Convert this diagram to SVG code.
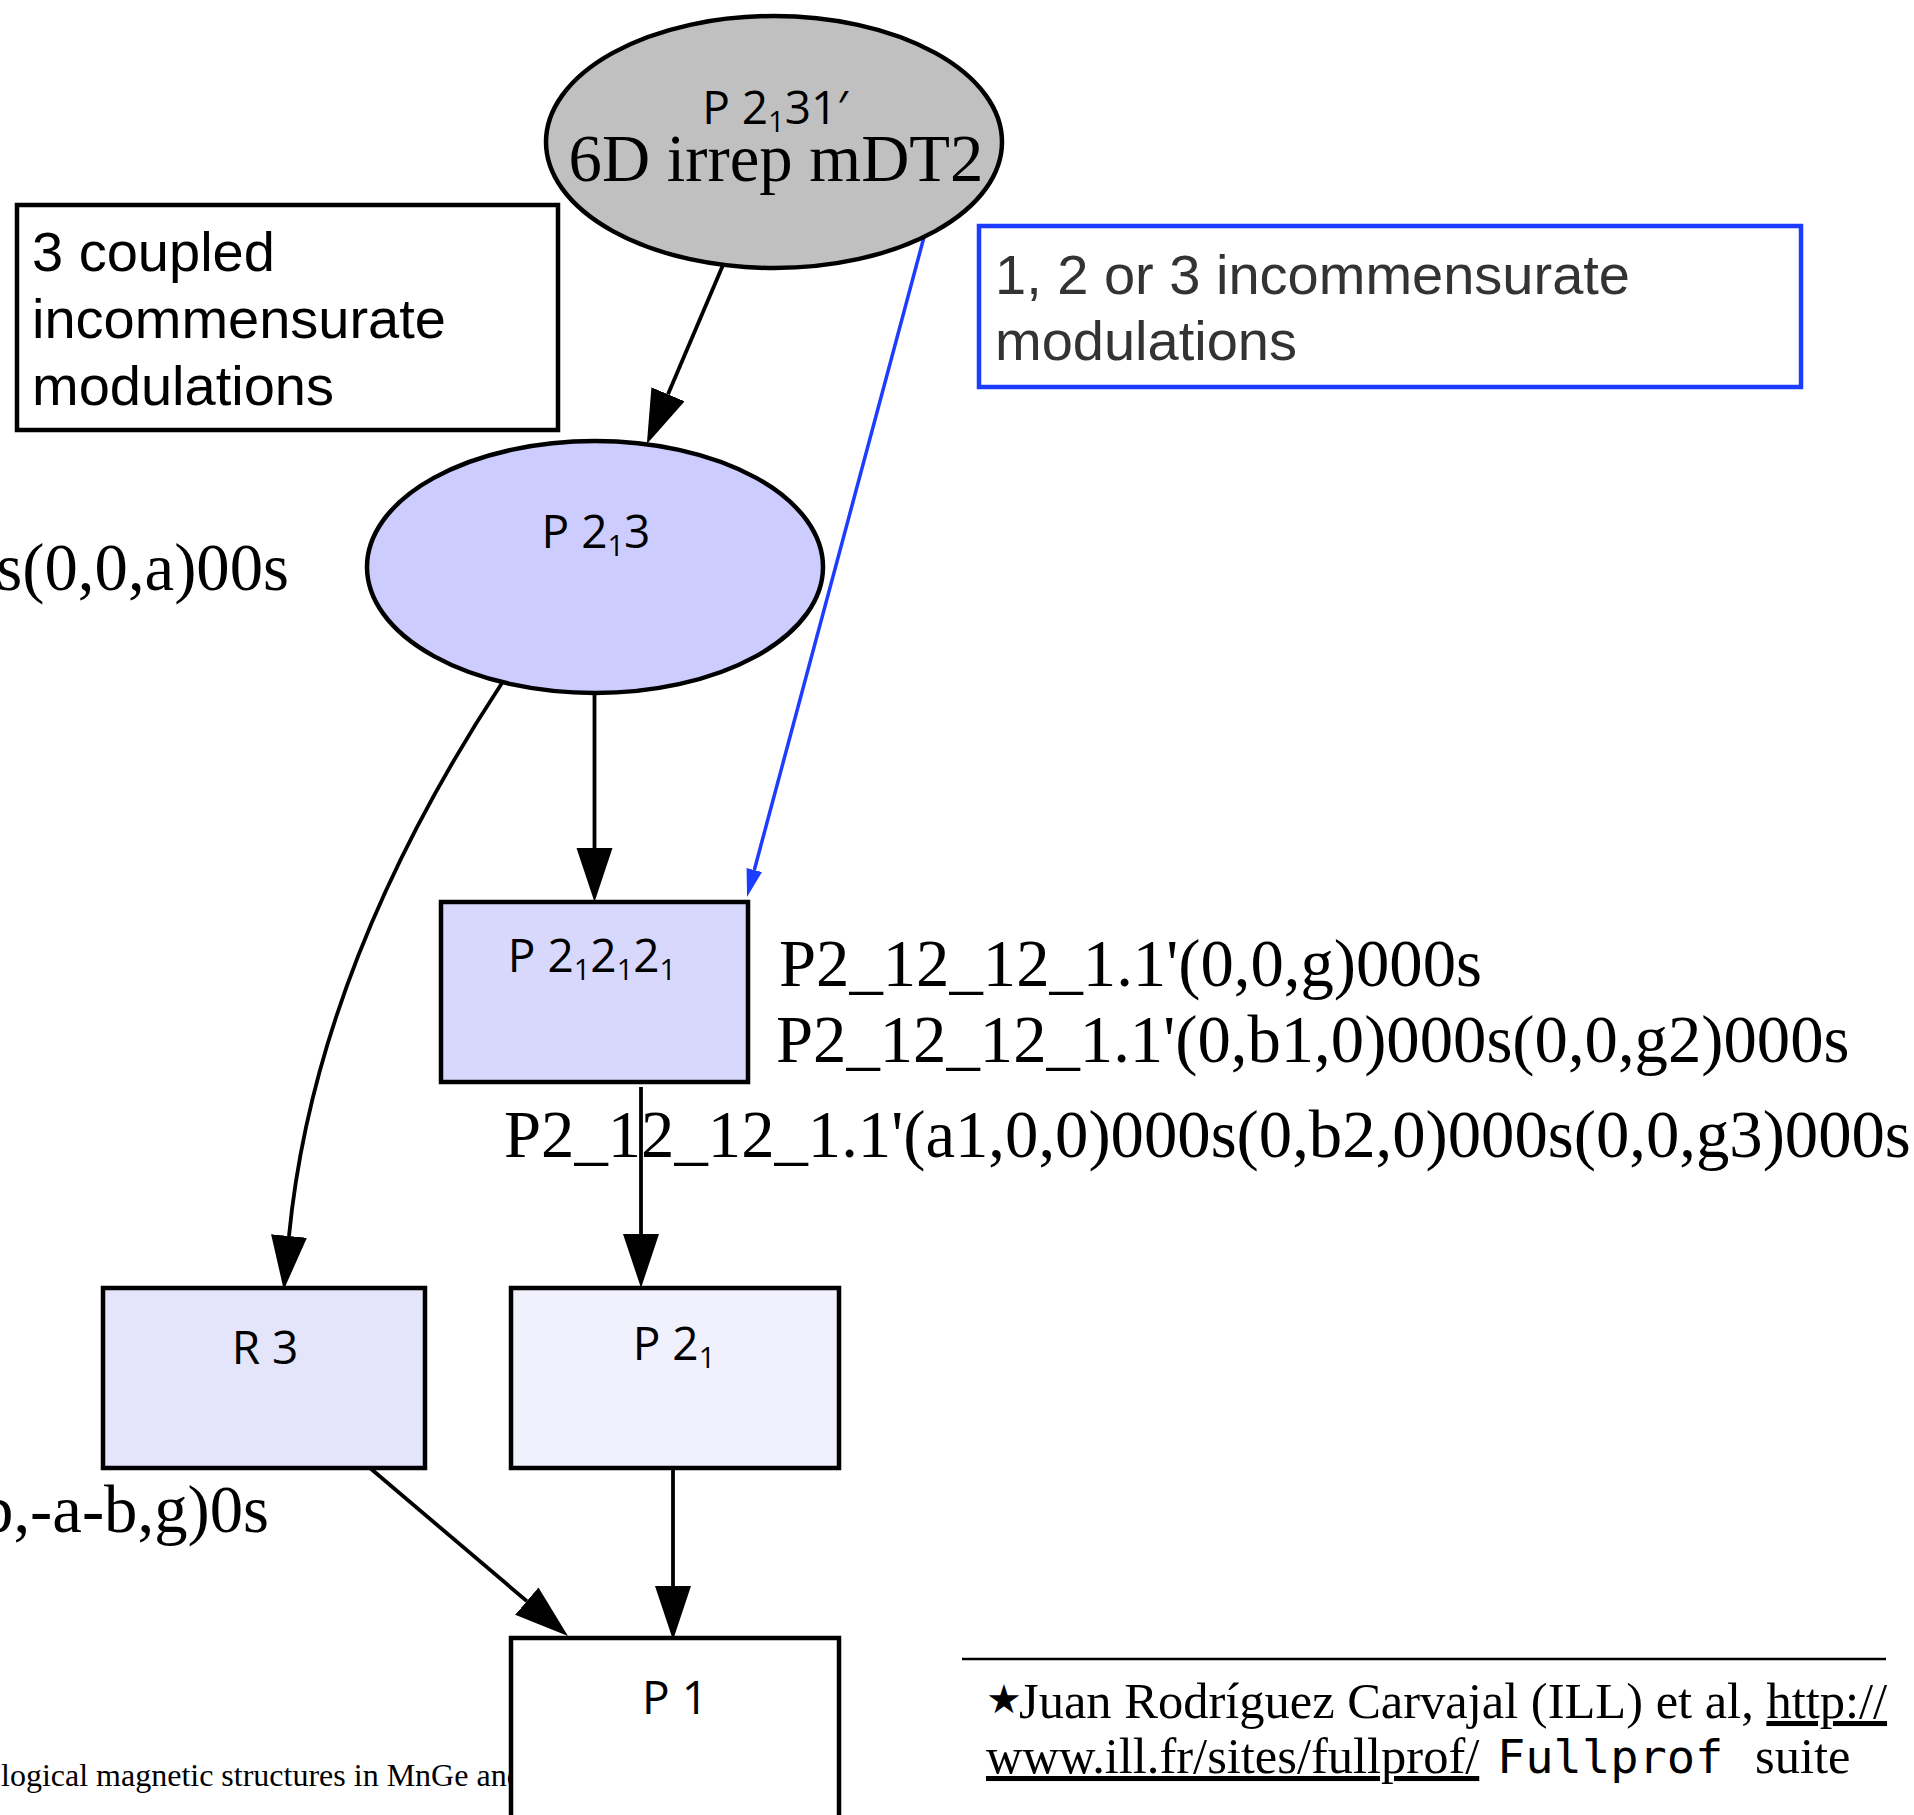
<svg xmlns="http://www.w3.org/2000/svg" width="1914" height="1815" viewBox="0 0 1914 1815">
<style>
  .node { stroke: #000; stroke-width: 4.5; }
  .nlabel { font-family: "Open Sans", "Noto Sans", sans-serif; font-size: 46px; fill: #000; text-anchor: middle; }
  .sub { font-size: 29px; }
  .serif { font-family: "Liberation Serif", "Times New Roman", serif; fill: #000; }
  .big { font-size: 66.7px; }
  .note { font-family: "Liberation Sans", Arial, sans-serif; font-size: 56px; }
  .conn { fill: none; stroke: #000; stroke-width: 3.8; }
  .blue { fill: none; stroke: #1c3cff; stroke-width: 3.5; }
</style>
<defs>
  <marker id="ah" markerUnits="userSpaceOnUse" markerWidth="60" markerHeight="40" refX="0" refY="18" orient="auto" viewBox="0 0 60 40">
    <path d="M0,0 L54,18 L0,36 z" fill="#000"/>
  </marker>
  <marker id="ahb" markerUnits="userSpaceOnUse" markerWidth="32" markerHeight="20" refX="0" refY="8" orient="auto" viewBox="0 0 32 20">
    <path d="M0,0 L28,8 L0,16 z" fill="#1c3cff"/>
  </marker>
</defs>
<rect width="1914" height="1815" fill="#fff"/>

<g id="labels">
  <text class="serif big" x="289" y="590" text-anchor="end">s(0,0,a)00s</text>
  <text class="serif big" x="779" y="986">P2_12_12_1.1'(0,0,g)000s</text>
  <text class="serif big" x="776" y="1062">P2_12_12_1.1'(0,b1,0)000s(0,0,g2)000s</text>
  <text class="serif big" x="504" y="1157">P2_12_12_1.1'(a1,0,0)000s(0,b2,0)000s(0,0,g3)000s</text>
  <text class="serif big" x="269" y="1532" text-anchor="end">b,-a-b,g)0s</text>
  <text class="serif" x="1" y="1786" font-size="32">logical magnetic structures in MnGe and</text>
</g>

<g id="footer">
  <line x1="962" y1="1659" x2="1886" y2="1659" stroke="#000" stroke-width="2.5"/>
  <text x="986" y="1713" font-family="DejaVu Sans, sans-serif" font-size="40">★</text>
  <text class="serif" x="1019" y="1718" font-size="50.5">Juan Rodríguez Carvajal (ILL) et al, <tspan text-decoration="underline">http://</tspan></text>
  <text class="serif" x="986" y="1773" font-size="50.5" text-decoration="underline">www.ill.fr/sites/fullprof/</text>
  <text x="1497" y="1773" font-family="DejaVu Sans Mono, Liberation Mono, monospace" font-size="47">Fullprof</text>
  <text class="serif" x="1755" y="1773" font-size="50.5">suite</text>
</g>

<g id="connectors">
  <path class="conn" d="M723,265 L668,394.3" marker-end="url(#ah)"/>
  <path class="blue" d="M924,237 L754.3,870" marker-end="url(#ahb)"/>
  <path class="conn" d="M594.5,693 L594.5,848" marker-end="url(#ah)"/>
  <path class="conn" d="M502,683 C425,800 312,1000 289,1236" marker-end="url(#ah)"/>
  <path class="conn" d="M641,1087 L641,1234" marker-end="url(#ah)"/>
  <path class="conn" d="M370,1468 L526.8,1601.1" marker-end="url(#ah)"/>
  <path class="conn" d="M673,1468 L673,1586" marker-end="url(#ah)"/>
</g>

<g id="node-note-left">
  <rect x="17" y="205" width="541" height="225" fill="#fff" stroke="#000" stroke-width="4.5"/>
  <text class="note" x="32" y="271">3 coupled</text>
  <text class="note" x="32" y="338">incommensurate</text>
  <text class="note" x="32" y="405">modulations</text>
</g>

<g id="node-note-right">
  <rect x="979" y="226" width="822" height="161" fill="#fff" stroke="#1c3cff" stroke-width="4.5"/>
  <text class="note" x="995" y="294" fill="#333">1, 2 or 3 incommensurate</text>
  <text class="note" x="995" y="360" fill="#333">modulations</text>
</g>

<g id="node-P2131prime">
  <ellipse class="node" cx="774" cy="142" rx="228" ry="126" fill="#c0c0c0"/>
  <text class="nlabel" x="775" y="124">P 2<tspan class="sub" dy="8">1</tspan><tspan dy="-8">31′</tspan></text>
  <text class="serif big" x="776" y="181" text-anchor="middle">6D irrep mDT2</text>
</g>

<g id="node-P213">
  <ellipse class="node" cx="595" cy="567" rx="228" ry="126" fill="#ccccff"/>
  <text class="nlabel" x="596" y="548">P 2<tspan class="sub" dy="8">1</tspan><tspan dy="-8">3</tspan></text>
</g>

<g id="node-P212121">
  <rect class="node" x="441" y="902" width="307" height="180" fill="#d8d8fc"/>
  <text class="nlabel" x="592" y="972">P 2<tspan class="sub" dy="8">1</tspan><tspan dy="-8">2</tspan><tspan class="sub" dy="8">1</tspan><tspan dy="-8">2</tspan><tspan class="sub" dy="8">1</tspan></text>
</g>

<g id="node-R3">
  <rect class="node" x="103" y="1288" width="322" height="180" fill="#e4e4fb"/>
  <text class="nlabel" x="265" y="1364">R 3</text>
</g>

<g id="node-P21">
  <rect class="node" x="511" y="1288" width="328" height="180" fill="#f1f1fd"/>
  <text class="nlabel" x="674" y="1360">P 2<tspan class="sub" dy="8">1</tspan></text>
</g>

<g id="node-P1">
  <rect class="node" x="511" y="1638" width="328" height="200" fill="#fff"/>
  <text class="nlabel" x="675" y="1714">P 1</text>
</g>
</svg>
